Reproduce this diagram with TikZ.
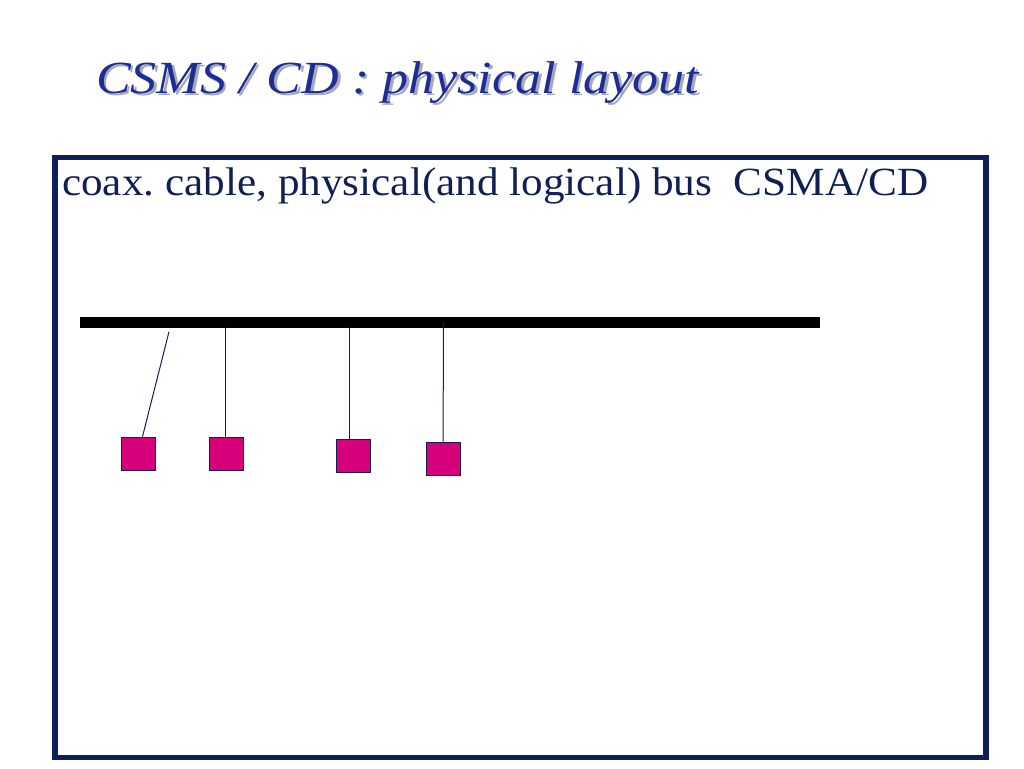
\documentclass[tikz,border=0pt]{standalone}
\usepackage{fontspec}
\setmainfont{Liberation Serif}
\usetikzlibrary{calc}
\definecolor{titleblue}{RGB}{30,45,150}
\definecolor{navy}{RGB}{16,32,85}
\definecolor{framecol}{RGB}{14,31,91}
\definecolor{station}{RGB}{214,0,123}
\definecolor{shadowgray}{RGB}{165,170,185}
\newcommand{\titletxt}{\resizebox{603pt}{\height}{CSMS / CD : physical layout}}
\tikzset{
  stationbox/.style={draw=navy, line width=1pt, fill=station, minimum width=34pt, minimum height=33pt, inner sep=0pt},
  tap/.style={draw=navy, line width=1pt},
  titletext/.style={anchor=base west, inner sep=0pt, font=\fontsize{46}{55}\selectfont\itshape},
}
\begin{document}
\frenchspacing
\begin{tikzpicture}[x=1pt, y=-1pt]
\useasboundingbox[fill=white] (0,0) rectangle (1024,768);
% title with shadow
\node[titletext, text=shadowgray] (titleshadow) at (98.5,95.5) {\titletxt};
\node[titletext, text=titleblue] (title) at (96,93) {\titletxt};
% frame
\node[draw=framecol, line width=5.5pt, minimum width=931pt, minimum height=600pt, inner sep=0pt, anchor=north west] (frame) at (52,154.5) {};
% caption
\node[anchor=base west, inner sep=0pt, text=navy, font=\fontsize{40}{48}\selectfont] (caption) at (62,195) {\resizebox{866pt}{\height}{coax. cable, physical(and logical) bus\ \ CSMA/CD}};
% bus
\node[fill=black, minimum width=740pt, minimum height=11pt, inner sep=0pt, anchor=north west] (bus) at (80,317) {};
% stations
\node[stationbox] (b1) at (138.9,454.4) {};
\node[stationbox] (b2) at (226.5,454.4) {};
\node[stationbox] (b3) at (353.5,456.3) {};
\node[stationbox] (b4) at (443.2,458.5) {};
% taps
\coordinate (t1) at (169,331.7);
\coordinate (t2) at (225,327);
\coordinate (t3) at (349.7,327);
\coordinate (t4) at (443.3,322);
\draw[tap] (t1) -- ([xshift=3.4pt]b1.north);
\draw[tap] (t2) -- ([xshift=-1.5pt]b2.north);
\draw[tap] (t3) -- ([xshift=-3.8pt]b3.north);
\draw[tap] (t4) -- (b4.north);
\end{tikzpicture}
\end{document}
